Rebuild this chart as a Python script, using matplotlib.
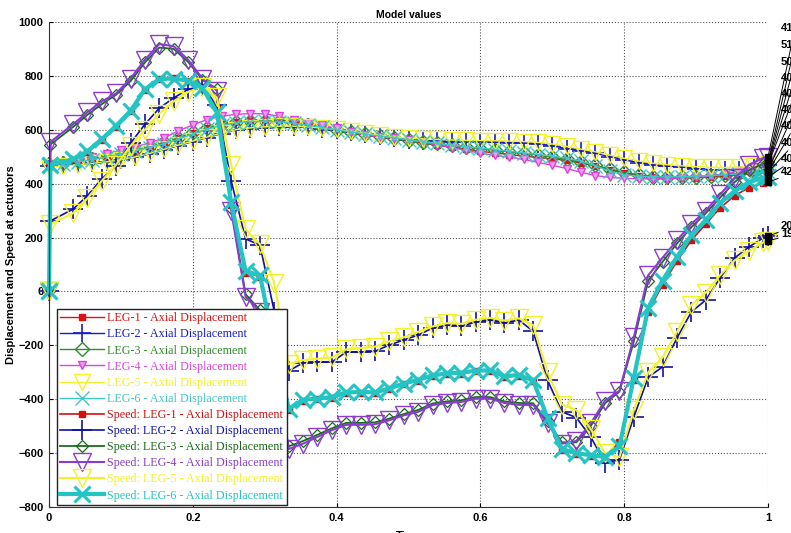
import matplotlib.pyplot as plt
import numpy as np

# time bases: displacement sampled every 0.02, speed shifted so a sample hits t=1/3
t_disp = np.round(np.arange(51) * 0.02, 4)
t_speed = np.r_[0.0, 0.002, np.arange(1, 50) * 0.02 + (1 / 3 - 0.32), 1.0]

# axial displacement
disp_leg1 = [470, 475, 482, 490, 500, 510, 522, 535, 550, 568, 588, 605, 620, 630, 636, 638, 636,
             630, 622, 612, 602, 592, 582, 574, 566, 558, 550, 542, 535, 528, 520, 514, 508, 502,
             497, 492, 486, 476, 466, 452, 440, 430, 424, 421, 421, 422, 424, 428, 433, 438, 442]
disp_leg2 = [465, 468, 472, 476, 480, 487, 497, 510, 525, 541, 556, 571, 586, 598, 604, 607, 609,
             611, 609, 604, 598, 592, 585, 577, 569, 563, 559, 557, 555, 555, 554, 553, 552, 551,
             548, 540, 530, 522, 512, 500, 488, 478, 468, 465, 461, 456, 452, 451, 452, 462, 470]
disp_leg3 = [472, 477, 484, 492, 502, 513, 525, 538, 553, 571, 590, 607, 620, 628, 632, 633, 630,
             624, 617, 609, 600, 592, 584, 577, 570, 563, 556, 549, 542, 536, 530, 524, 518, 512,
             506, 499, 490, 480, 468, 455, 442, 432, 426, 424, 424, 426, 429, 433, 438, 443, 448]
disp_leg4 = [470, 478, 488, 499, 511, 524, 537, 551, 570, 596, 618, 638, 650, 657, 660, 659, 650,
             636, 625, 616, 606, 593, 580, 574, 568, 562, 554, 544, 534, 523, 513, 505, 498, 490,
             479, 468, 456, 442, 430, 423, 420, 418, 417, 418, 421, 424, 428, 437, 448, 460, 470]
disp_leg5 = [462, 466, 470, 475, 481, 489, 499, 512, 527, 543, 558, 573, 588, 600, 607, 611, 613,
             613, 611, 606, 601, 594, 587, 580, 574, 569, 566, 564, 562, 561, 560, 559, 558, 556,
             553, 547, 538, 528, 518, 506, 494, 484, 476, 470, 466, 463, 461, 460, 461, 466, 474]
disp_leg6 = [468, 474, 481, 489, 499, 510, 522, 534, 548, 565, 584, 602, 616, 625, 630, 631, 629,
             624, 617, 609, 600, 592, 584, 577, 570, 563, 556, 549, 543, 537, 532, 526, 520, 514,
             508, 502, 494, 484, 466, 446, 433, 427, 425, 425, 426, 428, 430, 433, 436, 440, 444]

# speed
speed_leg1 = [0, 465, 488, 518, 562, 612, 668, 748, 790, 792, 780, 757, 680, 320, 70, 55, -210,
              -440, -405, -400, -395, -378, -376, -378, -362, -345, -331, -315, -306, -305, -296,
              -296, -318, -313, -333, -475, -590, -603, -610, -612, -560, -330, -75, 25, 112, 190,
              250, 310, 355, 385, 402, 405]
speed_leg2 = [0, 262, 305, 355, 418, 465, 550, 620, 680, 718, 750, 762, 690, 410, 195, 172, -75,
              -295, -265, -262, -262, -225, -225, -222, -199, -180, -162, -136, -125, -129, -114,
              -106, -117, -106, -148, -330, -447, -468, -540, -636, -625, -466, -318, -280, -173,
              -76, -32, 50, 124, 165, 199, 205]
speed_leg3 = [0, 545, 610, 655, 695, 730, 780, 850, 905, 900, 852, 785, 752, 310, -10, -70, -290,
              -575, -555, -532, -508, -488, -488, -486, -472, -455, -440, -416, -408, -404, -392,
              -392, -408, -414, -415, -482, -560, -560, -500, -415, -372, -185, 40, 110, 178, 238,
              290, 348, 405, 450, 474, 480]
speed_leg4 = [0, 555, 620, 665, 705, 735, 790, 860, 918, 910, 860, 790, 745, 300, -20, -75, -300,
              -585, -565, -540, -515, -495, -495, -493, -478, -460, -447, -422, -414, -410, -398,
              -398, -414, -421, -421, -490, -565, -555, -490, -405, -368, -170, 60, 125, 190, 250,
              300, 360, 420, 470, 495, 500]
speed_leg5 = [0, 250, 290, 345, 410, 470, 540, 600, 660, 705, 740, 760, 720, 470, 230, 175, 30,
              -270, -255, -250, -245, -215, -210, -205, -185, -170, -150, -130, -118, -120, -105,
              -98, -108, -100, -125, -300, -420, -440, -510, -600, -615, -440, -300, -245, -150,
              -50, -5, 60, 115, 150, 182, 188]
speed_leg6 = [0, 470, 490, 520, 565, 615, 670, 750, 788, 790, 782, 755, 665, 330, 75, 60, -200,
              -435, -402, -398, -392, -375, -373, -375, -360, -342, -328, -312, -304, -302, -294,
              -293, -315, -310, -330, -470, -585, -600, -608, -614, -575, -320, -60, 40, 128, 208,
              265, 328, 372, 405, 422, 425]

labels = ["LEG-1 - Axial Displacement", "LEG-2 - Axial Displacement",
          "LEG-3 - Axial Displacement", "LEG-4 - Axial Displacement",
          "LEG-5 - Axial Displacement", "LEG-6 - Axial Displacement",
          "Speed: LEG-1 - Axial Displacement", "Speed: LEG-2 - Axial Displacement",
          "Speed: LEG-3 - Axial Displacement", "Speed: LEG-4 - Axial Displacement",
          "Speed: LEG-5 - Axial Displacement", "Speed: LEG-6 - Axial Displacement"]

# data tip texts at the right edge (upper group top to bottom, then lower group)
tip_upper = ["417.6", "512.3", "501.9", "406.4", "405.8", "404.7", "404.1", "403.5", "402.2", "421.0"]
tip_lower = ["208.3", "193.7"]

series = [(t_disp, disp_leg1), (t_disp, disp_leg2), (t_disp, disp_leg3),
          (t_disp, disp_leg4), (t_disp, disp_leg5), (t_disp, disp_leg6),
          (t_speed, speed_leg1), (t_speed, speed_leg2), (t_speed, speed_leg3),
          (t_speed, speed_leg4), (t_speed, speed_leg5), (t_speed, speed_leg6)]

# color, linewidth, marker, markersize, marker face, marker edge width
styles = [
    ('#e01010', 1.0, 's', 4.5, '#e01010', 1.0),
    ('#1a1ac8', 1.0, '+', 13, 'none', 1.2),
    ('#2e8b2e', 1.0, 'D', 7, 'none', 1.0),
    ('#e040e0', 1.0, 'v', 6, '#e8a0e8', 1.0),
    ('#f2f22a', 1.0, 'v', 12, 'none', 1.0),
    ('#40c8c8', 1.0, 'x', 10, 'none', 1.0),
    ('#d01010', 1.2, 's', 5, '#d01010', 1.0),
    ('#1010a8', 1.2, '+', 14, 'none', 1.2),
    ('#1a6b1a', 1.3, 'D', 6.5, 'none', 0.9),
    ('#8a3ccf', 1.5, 'v', 13, 'none', 1.0),
    ('#f2f22a', 1.5, 'v', 13, 'none', 1.0),
    ('#22c4c4', 3.0, 'x', 12, 'none', 2.2),
]

plt.rcParams['font.family'] = ['Liberation Sans', 'DejaVu Sans']

fig = plt.figure(figsize=(7.91, 5.33), dpi=100)
ax = fig.add_axes([0.062, 0.0488, 0.909, 0.91])

for (t, v), lab, (c, lw, m, ms, mfc, mew) in zip(series, labels, styles):
    ax.plot(t, v, color=c, lw=lw, marker=m, ms=ms, mfc=mfc, mec=c, mew=mew,
            label=lab, clip_on=False)

ax.set_xlim(0, 1)
ax.set_ylim(-800, 1000)
ax.set_xticks(np.arange(0, 1.01, 0.2))
ax.set_xticklabels(['0', '0.2', '0.4', '0.6', '0.8', '1'])
ax.set_yticks(np.arange(-800, 1001, 200))
ax.tick_params(direction='in', length=3, labelsize=8, pad=4)
for lbl in ax.get_xticklabels() + ax.get_yticklabels():
    lbl.set_fontweight('bold')
ax.grid(True, linestyle=':', color='#555555', lw=0.8)
ax.spines['top'].set_visible(False)
ax.spines['right'].set_visible(False)
ax.spines['left'].set_color('#333333')
ax.spines['bottom'].set_color('#333333')

ax.set_title('Model values', fontsize=7.5, fontweight='bold', pad=3)
ax.set_ylabel('Displacement and Speed at actuators', fontsize=8, fontweight='bold')
ax.yaxis.set_label_coords(-0.046, 0.5)
ax.set_xlabel('Time', fontsize=8, fontweight='bold', labelpad=6)

leg = ax.legend(loc='lower left', bbox_to_anchor=(0.008, 0.0), ncol=1,
                prop={'family': 'Liberation Serif', 'size': 8.7},
                fancybox=False, edgecolor='#222222', framealpha=1,
                borderaxespad=0.15, handlelength=3.6, labelspacing=0.34,
                handletextpad=0.3, borderpad=0.3)
leg.get_frame().set_linewidth(1.0)
for txt, st in zip(leg.get_texts(), styles):
    txt.set_color(st[0])

# data tips at x = 1
upper = [(v[-1], t[-1]) for (t, v) in series if v[-1] > 300]
lower = [(v[-1], t[-1]) for (t, v) in series if v[-1] <= 300]
upper.sort(reverse=True)
lower.sort(reverse=True)
upper_py = [28, 45, 62, 78, 94, 110, 126, 143, 159, 172]
lower_py = [226, 234]
for group, tips, pys in [(upper, tip_upper, upper_py), (lower, tip_lower, lower_py)]:
    for (v, t), txt, py in zip(group, tips, pys):
        ax.plot([t], [v], 's', color='k', ms=4, clip_on=False, zorder=5)
        ax.annotate(txt, xy=(t, v), xytext=(781, 533 - py), textcoords='figure pixels',
                    fontsize=8, fontweight='bold', va='center', ha='left',
                    annotation_clip=False,
                    arrowprops=dict(arrowstyle='-', color='k', lw=0.7,
                                    shrinkA=0, shrinkB=0))

fig.savefig('out.png', dpi=100)
